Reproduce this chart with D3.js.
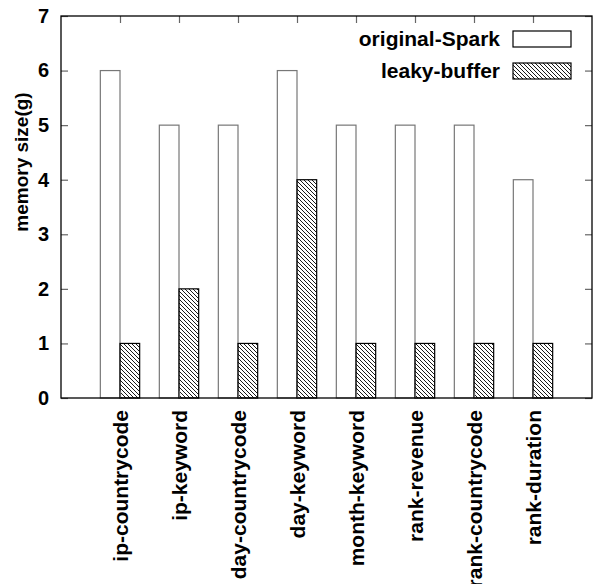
<!DOCTYPE html>
<html>
<head>
<meta charset="utf-8">
<script src="https://cdn.jsdelivr.net/npm/d3@7"></script>
<style>
  body { margin: 0; background: #fff; }
  text { font-family: "Liberation Sans", Arial, Helvetica, sans-serif; font-weight: bold; }
</style>
</head>
<body>
<div id="chart"></div>
<script>
const categories = ["ip-countrycode", "ip-keyword", "day-countrycode", "day-keyword",
  "month-keyword", "rank-revenue", "rank-countrycode", "rank-duration"];
const originalSpark = [6, 5, 5, 6, 5, 5, 5, 4];
const leakyBuffer = [1, 2, 1, 4, 1, 1, 1, 1];
const yTicks = [0, 1, 2, 3, 4, 5, 6, 7];
const seriesNames = ["original-Spark", "leaky-buffer"];

const width = 593, height = 584;
const margin = { top: 16, left: 61, bottom: 186, right: 1 };

const svg = d3.select("#chart").append("svg")
  .attr("width", width)
  .attr("height", height);

const defs = svg.append("defs");
defs.append("pattern")
  .attr("id", "hatch")
  .attr("patternUnits", "userSpaceOnUse")
  .attr("width", 4)
  .attr("height", 4)
  .append("path")
  .attr("d", "M-1,-1L5,5M3,-1L5,1M-1,3L1,5")
  .attr("stroke", "#000")
  .attr("stroke-width", 0.9);

let x = d3.scaleLinear()
  .domain([-1, 8])
  .range([margin.left, width - margin.right]);

let y = d3.scaleLinear()
  .domain([0, 7])
  .range([height - margin.bottom, margin.top]);

const bw = 1 / 3;

// bars
svg.selectAll("rect.orig").data(originalSpark).enter().append("rect")
  .attr("class", "orig")
  .attr("x", (d, i) => x(i - bw))
  .attr("y", d => y(d))
  .attr("width", x(bw) - x(0))
  .attr("height", d => y(0) - y(d))
  .attr("fill", "#fff")
  .attr("stroke", "#777")
  .attr("stroke-width", 1.2);

svg.selectAll("rect.leaky").data(leakyBuffer).enter().append("rect")
  .attr("class", "leaky")
  .attr("x", (d, i) => x(i))
  .attr("y", d => y(d))
  .attr("width", x(bw) - x(0))
  .attr("height", d => y(0) - y(d))
  .attr("fill", "url(#hatch)")
  .attr("stroke", "#000")
  .attr("stroke-width", 1.2);

// axes with inward ticks
const tickLen = 7;
const idx = d3.range(categories.length);

const gLeft = svg.append("g")
  .attr("transform", `translate(${margin.left},0)`)
  .call(d3.axisLeft(y).tickValues(yTicks).tickSize(-tickLen).tickPadding(12).tickFormat(d3.format("d")));
gLeft.selectAll("text").style("font-size", "20px").attr("fill", "#000");

svg.append("g")
  .attr("transform", `translate(${width - margin.right},0)`)
  .call(d3.axisRight(y).tickValues(yTicks).tickSize(-tickLen).tickFormat(""));

const gBottom = svg.append("g")
  .attr("transform", `translate(0,${y(0)})`)
  .call(d3.axisBottom(x).tickValues(idx).tickSize(-tickLen).tickFormat(i => categories[i]));
gBottom.selectAll("text")
  .style("font-size", "21px")
  .attr("fill", "#000")
  .attr("text-anchor", "end")
  .attr("transform", "rotate(-90)")
  .attr("x", -12)
  .attr("y", 0)
  .attr("dy", "0.36em");

svg.append("g")
  .attr("transform", `translate(0,${margin.top})`)
  .call(d3.axisTop(x).tickValues(idx).tickSize(-tickLen).tickFormat(""));

svg.selectAll(".domain").remove();
svg.selectAll(".tick line").attr("stroke", "#666").attr("stroke-width", 1.2);

// frame
svg.append("rect")
  .attr("x", margin.left)
  .attr("y", margin.top)
  .attr("width", x(8) - x(-1))
  .attr("height", y(0) - y(7))
  .attr("fill", "none")
  .attr("stroke", "#000")
  .attr("stroke-width", 1.3);

// y axis label
svg.append("text")
  .attr("transform", "translate(28,162) rotate(-90)")
  .attr("text-anchor", "middle")
  .style("font-size", "19px")
  .text("memory size(g)");

// legend
const legend = svg.append("g");
const legendRows = [
  { name: seriesNames[0], fill: "#fff", stroke: "#000", cy: 39 },
  { name: seriesNames[1], fill: "url(#hatch)", stroke: "#000", cy: 71 }
];
legendRows.forEach(r => {
  legend.append("text")
    .attr("x", 500)
    .attr("y", r.cy)
    .attr("dy", "0.35em")
    .attr("text-anchor", "end")
    .style("font-size", "21px")
    .text(r.name);
  legend.append("rect")
    .attr("x", 513)
    .attr("y", r.cy - 8)
    .attr("width", 58)
    .attr("height", 16)
    .attr("fill", r.fill)
    .attr("stroke", r.stroke)
    .attr("stroke-width", 1.2);
});
</script>
</body>
</html>
